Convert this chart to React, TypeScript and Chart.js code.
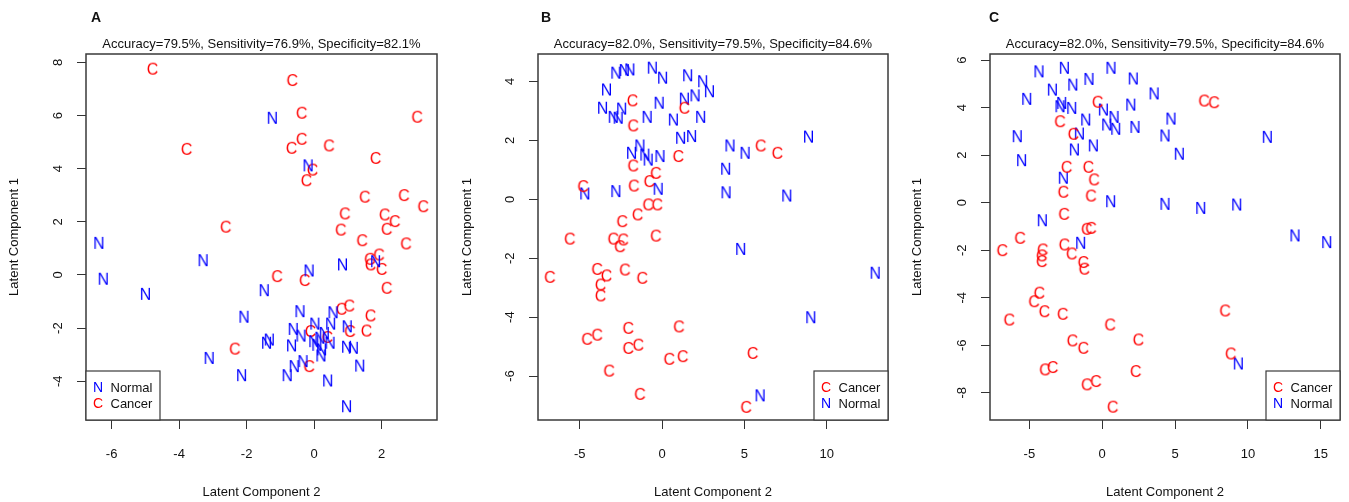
import React, { useEffect, useRef } from 'react';
import { Chart, registerables } from 'chart.js';

Chart.register(...registerables);

const FONT = '"Liberation Sans", Arial, Helvetica, sans-serif';
const RED = '#FF0000';
const BLUE = '#0000FF';
const TEXT = '#111111';

// ---------- Panel A ----------
const A_CANCER: [number, number][] = [
  [-4.79, 7.75], [-0.65, 7.32], [-0.37, 6.09], [3.05, 5.94], [-3.78, 4.73], [-0.37, 5.11],
  [-0.67, 4.77], [0.44, 4.86], [1.82, 4.39], [-0.05, 3.95], [-0.23, 3.55], [1.5, 2.93],
  [2.66, 2.99], [3.23, 2.57], [0.91, 2.3], [2.09, 2.26], [2.39, 2.01], [-2.62, 1.8],
  [0.79, 1.69], [2.15, 1.72], [1.42, 1.29], [2.72, 1.17], [-1.1, -0.06], [-0.28, -0.21],
  [1.65, 0.59], [1.67, 0.38], [1.92, 0.75], [2.0, 0.21], [2.15, -0.5], [0.81, -1.29],
  [1.04, -1.17], [1.67, -1.54], [-0.11, -2.13], [1.06, -2.13], [1.55, -2.11], [0.39, -2.35],
  [-2.35, -2.79], [-0.15, -3.45],
];
const A_NORMAL: [number, number][] = [
  [-1.24, 5.9], [-0.18, 4.11], [-6.38, 1.19], [-3.29, 0.54], [-6.25, -0.16], [-5.0, -0.73],
  [-0.15, 0.15], [-1.48, -0.59], [0.84, 0.38], [1.82, 0.5], [-2.08, -1.59], [-0.42, -1.38],
  [0.56, -1.42], [0.02, -1.85], [0.49, -1.85], [0.98, -1.95], [-0.62, -2.05], [-0.39, -2.3],
  [-1.33, -2.45], [-1.41, -2.57], [-0.67, -2.67], [-0.01, -2.51], [0.17, -2.38], [0.47, -2.57],
  [0.22, -2.82], [0.2, -3.05], [0.96, -2.72], [1.16, -2.76], [-3.11, -3.14], [-0.33, -3.26],
  [-0.59, -3.45], [1.35, -3.43], [-2.15, -3.79], [-0.8, -3.79], [0.4, -3.99], [0.96, -4.96],
  [0.08, -2.65], [0.3, -2.2],
];
const A_X_TICKS = [-6, -4, -2, 0, 2];
const A_Y_TICKS = [-4, -2, 0, 2, 4, 6, 8];
const A_X_RANGE = [-6.76, 3.64];
const A_Y_RANGE = [-5.46, 8.32];
const A_SUBTITLE = 'Accuracy=79.5%, Sensitivity=76.9%, Specificity=82.1%';

// ---------- Panel B ----------
const B_CANCER: [number, number][] = [
  [-1.8, 3.34], [1.35, 3.09], [-1.76, 2.49], [5.99, 1.81], [7.0, 1.56], [0.98, 1.45],
  [-1.76, 1.13], [-0.38, 0.88], [-0.78, 0.6], [-1.72, 0.45], [-4.8, 0.43], [-0.85, -0.19],
  [-0.3, -0.19], [-1.49, -0.53], [-2.43, -0.76], [-5.61, -1.35], [-2.97, -1.35], [-2.37, -1.38],
  [-2.57, -1.61], [-0.38, -1.25], [-6.82, -2.65], [-3.95, -2.38], [-3.38, -2.6], [-3.74, -2.91],
  [-3.74, -3.28], [-2.26, -2.4], [-1.21, -2.68], [-2.06, -4.38], [1.02, -4.33], [-4.56, -4.75],
  [-3.95, -4.61], [-2.06, -5.06], [-1.45, -4.95], [0.43, -5.43], [1.25, -5.34], [5.5, -5.23],
  [-3.22, -5.83], [-1.35, -6.62], [5.1, -7.06],
];
const B_NORMAL: [number, number][] = [
  [-2.81, 4.28], [-2.3, 4.37], [-1.96, 4.39], [-0.6, 4.45], [0.03, 4.11], [1.55, 4.19],
  [2.46, 3.99], [2.87, 3.65], [-3.38, 3.71], [2.0, 3.51], [1.35, 3.4], [-0.18, 3.26],
  [-3.62, 3.09], [-2.46, 3.06], [-2.97, 2.78], [-2.67, 2.75], [-0.91, 2.78], [0.68, 2.69],
  [2.34, 2.78], [1.12, 2.07], [1.79, 2.13], [8.89, 2.11], [4.12, 1.81], [5.04, 1.56],
  [-1.35, 1.81], [-1.86, 1.56], [-1.05, 1.5], [-0.85, 1.33], [-0.13, 1.45], [3.86, 1.02],
  [-0.24, 0.34], [-4.7, 0.18], [-2.81, 0.26], [3.88, 0.22], [7.57, 0.11], [4.77, -1.7],
  [12.94, -2.51], [9.03, -4.02], [5.95, -6.67],
];
const B_X_TICKS = [-5, 0, 5, 10];
const B_Y_TICKS = [-6, -4, -2, 0, 2, 4];
const B_X_RANGE = [-7.54, 13.72];
const B_Y_RANGE = [-7.49, 4.93];
const B_SUBTITLE = 'Accuracy=82.0%, Sensitivity=79.5%, Specificity=84.6%';

// ---------- Panel C ----------
const C_CANCER: [number, number][] = [
  [6.99, 4.28], [7.67, 4.21], [-0.31, 4.23], [-2.9, 3.41], [-1.98, 2.88], [-2.44, 1.49],
  [-0.95, 1.49], [-0.56, 0.96], [-2.67, 0.44], [-0.77, 0.28], [-2.62, -0.49], [-1.06, -1.12],
  [-0.77, -1.08], [-5.64, -1.5], [-6.86, -2.02], [-4.08, -1.99], [-4.15, -2.24], [-4.15, -2.48],
  [-2.6, -1.78], [-2.09, -2.16], [-1.3, -2.52], [-1.23, -2.8], [-4.32, -3.81], [-4.68, -4.17],
  [-3.97, -4.59], [-2.71, -4.7], [-6.38, -4.94], [0.54, -5.15], [8.43, -4.56], [2.48, -5.78],
  [-2.05, -5.82], [-1.3, -6.13], [8.82, -6.37], [-3.93, -7.04], [-3.4, -6.94], [2.3, -7.11],
  [-1.06, -7.67], [-0.43, -7.53], [0.72, -8.61],
];
const C_NORMAL: [number, number][] = [
  [-4.34, 5.51], [-2.6, 5.66], [0.6, 5.66], [-0.91, 5.19], [2.13, 5.21], [-2.02, 4.95],
  [-3.42, 4.74], [3.56, 4.58], [-5.18, 4.35], [-2.78, 4.18], [-2.9, 4.04], [-2.09, 3.97],
  [0.08, 3.9], [1.96, 4.11], [0.81, 3.59], [-1.13, 3.48], [4.72, 3.52], [0.31, 3.27],
  [0.93, 3.09], [2.25, 3.17], [-5.83, 2.78], [4.31, 2.81], [11.33, 2.75], [-1.57, 2.89],
  [-1.91, 2.22], [-0.61, 2.39], [5.29, 2.04], [-5.53, 1.77], [-2.67, 1.03], [0.58, 0.04],
  [4.31, -0.07], [6.76, -0.24], [9.23, -0.1], [-4.11, -0.76], [13.23, -1.4], [15.41, -1.68],
  [-1.48, -1.71], [9.34, -6.79],
];
const C_X_TICKS = [-5, 0, 5, 10, 15];
const C_Y_TICKS = [-8, -6, -4, -2, 0, 2, 4, 6];
const C_X_RANGE = [-7.7, 16.32];
const C_Y_RANGE = [-9.15, 6.26];
const C_SUBTITLE = 'Accuracy=82.0%, Sensitivity=79.5%, Specificity=84.6%';

const X_TITLE = 'Latent Component 2';
const Y_TITLE = 'Latent Component 1';

type Series = { label: string; ch: string; color: string; data: [number, number][] };
type PanelCfg = {
  letter: string;
  left: number;
  width: number;
  chartLeft: number;
  padRight: number;
  letterX: number;
  yTitlePad: number;
  subtitle: string;
  xRange: number[];
  yRange: number[];
  xTicks: number[];
  yTicks: number[];
  series: Series[];
  legendSide: 'left' | 'right';
};

const PANELS: PanelCfg[] = [
  {
    letter: 'A', left: 0, width: 450, chartLeft: 86, padRight: 13, letterX: 96, yTitlePad: 7,
    subtitle: A_SUBTITLE, xRange: A_X_RANGE, yRange: A_Y_RANGE, xTicks: A_X_TICKS, yTicks: A_Y_TICKS,
    series: [
      { label: 'Normal', ch: 'N', color: BLUE, data: A_NORMAL },
      { label: 'Cancer', ch: 'C', color: RED, data: A_CANCER },
    ],
    legendSide: 'left',
  },
  {
    letter: 'B', left: 450, width: 450, chartLeft: 88, padRight: 12, letterX: 96, yTitlePad: 10,
    subtitle: B_SUBTITLE, xRange: B_X_RANGE, yRange: B_Y_RANGE, xTicks: B_X_TICKS, yTicks: B_Y_TICKS,
    series: [
      { label: 'Cancer', ch: 'C', color: RED, data: B_CANCER },
      { label: 'Normal', ch: 'N', color: BLUE, data: B_NORMAL },
    ],
    legendSide: 'right',
  },
  {
    letter: 'C', left: 900, width: 449, chartLeft: 90, padRight: 9, letterX: 94, yTitlePad: 10,
    subtitle: C_SUBTITLE, xRange: C_X_RANGE, yRange: C_Y_RANGE, xTicks: C_X_TICKS, yTicks: C_Y_TICKS,
    series: [
      { label: 'Cancer', ch: 'C', color: RED, data: C_CANCER },
      { label: 'Normal', ch: 'N', color: BLUE, data: C_NORMAL },
    ],
    legendSide: 'right',
  },
];

function letterImage(ch: string, color: string, size: number): HTMLCanvasElement {
  const c = document.createElement('canvas');
  const w = Math.ceil(size * 0.9);
  const h = Math.ceil(size * 0.9);
  c.width = w;
  c.height = h;
  const ctx = c.getContext('2d')!;
  ctx.font = `${size}px ${FONT}`;
  ctx.fillStyle = color;
  ctx.textAlign = 'center';
  ctx.textBaseline = 'alphabetic';
  ctx.fillText(ch, w / 2, h / 2 + size * 0.358);
  return c;
}

function Panel({ cfg }: { cfg: PanelCfg }) {
  const ref = useRef<HTMLCanvasElement>(null);

  useEffect(() => {
    const canvas = ref.current;
    if (!canvas) return;

    const decor = {
      id: 'decor',
      afterDatasetsDraw(chart: any) {
        const { ctx, chartArea: a } = chart;
        ctx.save();
        // plot box
        ctx.strokeStyle = '#3a3a3a';
        ctx.lineWidth = 1.5;
        ctx.strokeRect(a.left, a.top, a.right - a.left, a.bottom - a.top);
        // legend
        const bw = 74;
        const bh = 49;
        const bx = cfg.legendSide === 'left' ? a.left : a.right - bw;
        const by = a.bottom - bh;
        ctx.fillStyle = '#ffffff';
        ctx.fillRect(bx, by, bw, bh);
        ctx.lineWidth = 1.2;
        ctx.strokeRect(bx, by, bw, bh);
        ctx.textBaseline = 'middle';
        cfg.series.forEach((s, i) => {
          const cy = by + 17 + i * 16;
          ctx.font = `14px ${FONT}`;
          ctx.fillStyle = s.color;
          ctx.textAlign = 'center';
          ctx.fillText(s.ch, bx + 12, cy);
          ctx.font = `13px ${FONT}`;
          ctx.fillStyle = TEXT;
          ctx.textAlign = 'left';
          ctx.fillText(s.label, bx + 24.5, cy);
        });
        // subtitle
        ctx.font = `13px ${FONT}`;
        ctx.fillStyle = TEXT;
        ctx.textAlign = 'center';
        ctx.fillText(cfg.subtitle, (a.left + a.right) / 2, 44);
        // panel letter
        ctx.font = `bold 14px ${FONT}`;
        ctx.fillText(cfg.letter, cfg.letterX, 18);
        ctx.restore();
      },
    };

    const tickFont = { family: FONT, size: 13 };
    const gridOpts = {
      display: true,
      drawOnChartArea: false,
      drawTicks: true,
      tickLength: 9,
      color: '#333333',
      lineWidth: 1,
    };

    const chart = new Chart(canvas, {
      type: 'scatter',
      data: {
        datasets: cfg.series.map((s) => ({
          label: s.label,
          data: s.data.map(([x, y]) => ({ x, y })),
          pointStyle: letterImage(s.ch, s.color, 16) as any,
          pointRadius: 6,
          showLine: false,
        })),
      },
      options: {
        responsive: false,
        animation: false,
        events: [],
        layout: { padding: { left: 0, right: cfg.padRight, top: 54, bottom: 0 } },
        plugins: {
          legend: { display: false },
          tooltip: { enabled: false },
          title: { display: false },
        },
        scales: {
          x: {
            type: 'linear',
            position: 'bottom',
            min: cfg.xRange[0],
            max: cfg.xRange[1],
            afterBuildTicks: (s: any) => {
              s.ticks = cfg.xTicks.map((v) => ({ value: v }));
            },
            afterFit: (s: any) => {
              s.height = 82;
            },
            grid: gridOpts,
            border: { display: false },
            ticks: {
              font: tickFont,
              color: TEXT,
              padding: 18,
              minRotation: 0,
              maxRotation: 0,
              autoSkip: false,
              callback: (v: any) => String(v),
            },
            title: {
              display: true,
              text: X_TITLE,
              font: tickFont,
              color: TEXT,
              padding: { top: 0, bottom: 2 },
            },
          },
          y: {
            type: 'linear',
            position: 'left',
            min: cfg.yRange[0],
            max: cfg.yRange[1],
            afterBuildTicks: (s: any) => {
              s.ticks = cfg.yTicks.map((v) => ({ value: v }));
            },
            afterFit: (s: any) => {
              s.width = cfg.chartLeft;
            },
            grid: gridOpts,
            border: { display: false },
            ticks: {
              font: tickFont,
              color: TEXT,
              padding: 13,
              minRotation: 90,
              maxRotation: 90,
              crossAlign: 'center',
              autoSkip: false,
              callback: (v: any) => String(v),
            },
            title: {
              display: true,
              text: Y_TITLE,
              font: tickFont,
              color: TEXT,
              padding: { top: cfg.yTitlePad, bottom: 0 },
            },
          },
        },
      } as any,
      plugins: [decor],
    });

    return () => chart.destroy();
  }, [cfg]);

  return (
    <canvas
      ref={ref}
      width={cfg.width}
      height={502}
      style={{ position: 'absolute', left: cfg.left, top: 0, width: cfg.width, height: 502 }}
    />
  );
}

export default function App() {
  return (
    <div
      style={{
        position: 'fixed',
        left: 0,
        top: 0,
        width: 1349,
        height: 502,
        background: '#ffffff',
        overflow: 'hidden',
      }}
    >
      {PANELS.map((p) => (
        <Panel key={p.letter} cfg={p} />
      ))}
    </div>
  );
}
